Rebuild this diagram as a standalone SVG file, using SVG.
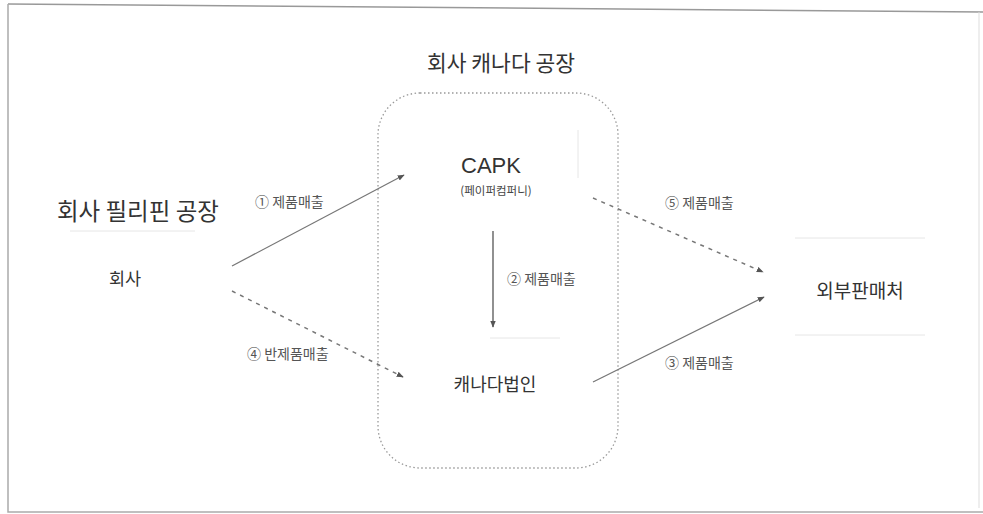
<svg xmlns="http://www.w3.org/2000/svg" width="983" height="514" viewBox="0 0 983 514">
<style>
text{font-family:"Noto Sans CJK KR","Noto Sans",sans-serif;fill:#333}
.lbl{font-size:14px;fill:#555}
.name{font-size:18px}
.solid{stroke:#777;stroke-width:1.3;fill:none}
.dash{stroke:#777;stroke-width:1.5;fill:none;stroke-dasharray:4 5}
.faint{stroke:#e6e6e6;stroke-width:1;fill:none}
</style>
<defs>
<marker id="ah" viewBox="0 0 10 10" refX="9" refY="5" markerWidth="7" markerHeight="7" orient="auto-start-reverse" markerUnits="userSpaceOnUse">
<path d="M0,1 L10,5 L0,9 z" fill="#555"/>
</marker>
</defs>
<rect width="983" height="514" fill="#fff"/>
<g id="frame">
<path d="M8,4 L983,12" stroke="#999" stroke-width="1.5" fill="none"/>
<path d="M8,4 L8,512 L983,512" stroke="#aaa" stroke-width="1.5" fill="none"/>
<path d="M979,12 L979,508" stroke="#ddd" stroke-width="1" fill="none"/>
</g>
<g id="canada-plant">
<rect x="378" y="93" width="240" height="375" rx="42" ry="42" fill="none" stroke="#999" stroke-width="1.3" stroke-dasharray="1.5 2.5"/>
<text x="501" y="71" text-anchor="middle" style="font-size:21.5px">회사 캐나다 공장</text>
</g>
<g id="philippines-plant">
<text x="57" y="220" style="font-size:23.5px">회사 필리핀 공장</text>
<path class="faint" d="M70,231 H195"/>
</g>
<g id="company">
<text x="125" y="285" text-anchor="middle" style="font-size:17.5px">회사</text>
</g>
<g id="capk">
<text x="491" y="173" text-anchor="middle" style="font-size:22px;font-family:'Liberation Sans',Arial,sans-serif">CAPK</text>
<text x="496" y="195" text-anchor="middle" style="font-size:11.5px;fill:#444">(페이퍼컴퍼니)</text>
<path class="faint" d="M578,130 V178"/>
</g>
<g id="canada-corp">
<path class="faint" d="M490,338 H560"/>
<text class="name" x="495" y="391" text-anchor="middle">캐나다법인</text>
</g>
<g id="external">
<path class="faint" d="M795,238 H925 M795,335 H925"/>
<text x="860" y="298" text-anchor="middle" style="font-size:19px">외부판매처</text>
</g>
<g id="connectors">
<path class="solid" d="M232,266 L404,175" marker-end="url(#ah)"/>
<path d="M493,231 L493,327" stroke="#555" stroke-width="1.3" fill="none" marker-end="url(#ah)"/>
<path class="solid" d="M593,382 L764,297" marker-end="url(#ah)"/>
<path class="dash" d="M232,291 L403,377" marker-end="url(#ah)"/>
<path class="dash" d="M593,198 L763,272" marker-end="url(#ah)"/>
<text class="lbl" x="255" y="207">① 제품매출</text>
<text class="lbl" x="507" y="284">② 제품매출</text>
<text class="lbl" x="665" y="368">③ 제품매출</text>
<text class="lbl" x="247" y="359">④ 반제품매출</text>
<text class="lbl" x="665" y="208">⑤ 제품매출</text>
</g>
</svg>
